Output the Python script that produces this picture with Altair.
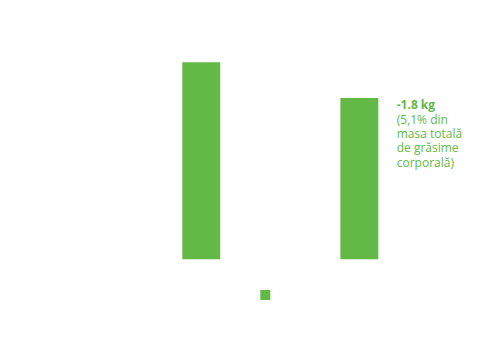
import altair as alt
import pandas as pd

categories = ["Grupa 1", "Grupa 2"]
values = [2.2, 1.8]
series_name = ["Grăsime corporală", "Grăsime corporală"]
label_bold = ["", "-1.8 kg"]
label_note = ["", "(5,1% din\nmasa totală\nde grăsime\ncorporală)"]

green = "#63b946"

df = pd.DataFrame({
    "cat": categories,
    "val": values,
    "series": series_name,
    "bold": label_bold,
    "note": label_note,
})

x = alt.X("cat:N", sort=categories, axis=None,
          scale=alt.Scale(range=[182.3, 378.3], paddingInner=0.76, paddingOuter=0))
y = alt.Y("val:Q", axis=None,
          scale=alt.Scale(domain=[0, 2.2], range=[259.3, 62.3], nice=False, zero=True))

base = alt.Chart(df)

bars = base.mark_bar().encode(
    x=x,
    y=y,
    color=alt.Color(
        "series:N",
        scale=alt.Scale(range=[green]),
        legend=alt.Legend(
            orient="none", legendX=260.3, legendY=290, title=None,
            labelExpr="''", symbolType="square", symbolSize=100,
            symbolStrokeWidth=0, symbolOpacity=1, padding=0,
        ),
    ),
)

bold = base.mark_text(
    align="left", baseline="alphabetic", dx=37.4, dy=11,
    font="Open Sans", fontSize=12, fontWeight="bold", color=green,
).encode(x=x, y=y, text="bold:N")

note = base.mark_text(
    align="left", baseline="alphabetic", dx=37.4, dy=25.4,
    font="Open Sans", fontSize=12, lineBreak="\n", lineHeight=14.4,
    color=green,
).encode(x=x, y=y, text="note:N")

chart = alt.layer(bars, bold, note).properties(
    width=500, height=340,
    autosize=alt.AutoSizeParams(type="none"),
    padding=0,
).configure_view(stroke=None)

chart.save("out.html", embed_options={"renderer": "svg", "actions": False})
